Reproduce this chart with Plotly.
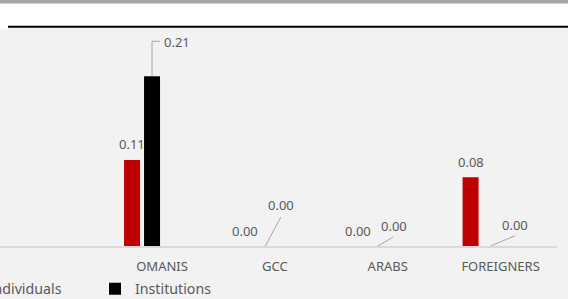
import plotly.graph_objects as go

categories = ["OMANIS", "GCC", "ARABS", "FOREIGNERS"]
individuals = [0.106, 0.0, 0.0, 0.0846]
institutions = [0.209, 0.0, 0.0, 0.0]
series_names = ["Individuals", "Institutions"]
series_colors = ["#C00000", "#000000"]

W, H = 568, 299
ML, MR, MT, MB = 0, 11, 28, 53
PW = W - ML - MR          # plot width in px
PH = H - MT - MB          # plot height in px
CAT_PX = PW / 4.936       # pixels per category
X_RANGE = [-1.436, 3.5]
PX_PER_UNIT = 812.0
Y_RANGE = [0, PH / PX_PER_UNIT]

BAR_W = 16 / CAT_PX
OFFSETS = [-38 / CAT_PX, -18 / CAT_PX]
FONT = "Noto Sans"
TXT = "#595959"
LEAD = "#a6a6a6"

fig = go.Figure()
for name, vals, col, off in zip(series_names, [individuals, institutions], series_colors, OFFSETS):
    fig.add_trace(go.Bar(name=name, x=categories, y=vals, marker_color=col,
                         marker_line_width=0, offset=off, width=BAR_W))

# label layout: (dx, dy up) for text centre; leader path points in px
label_style = {
    0: [dict(t=(0, 15.5)), dict(t=(0, 15.5)), dict(t=(0, 15.5)), dict(t=(0, 15.5))],
    1: [dict(t=(25, 34), lead="M0,0 L0,35 L8,35"),
        dict(t=(15.7, 41), lead="M0.5,0 L16,29"),
        dict(t=(16, 20.5), lead="M0,0 L15.5,9"),
        dict(t=(24, 21.5), lead="M0,0 L24.6,10.3")],
}

annotations = []
shapes = []
for si, vals in enumerate([individuals, institutions]):
    for ci, v in enumerate(vals):
        st = label_style[si][ci]
        xc = ci + OFFSETS[si] + BAR_W / 2
        annotations.append(dict(x=xc, y=v, xref="x", yref="y", text=f"{v:.2f}",
                                showarrow=False, xanchor="center", yanchor="middle",
                                xshift=st["t"][0], yshift=st["t"][1],
                                font=dict(family=FONT, size=13, color=TXT)))
        if "lead" in st:
            shapes.append(dict(type="path", xref="x", yref="y", xsizemode="pixel",
                               ysizemode="pixel", xanchor=xc, yanchor=v, path=st["lead"],
                               line=dict(color=LEAD, width=1)))

def px(x):
    return (x - ML) / PW

def py(y):
    return (MT + PH - y) / PH

deco = [
    dict(type="rect", x0=px(0), x1=px(W), y0=py(3.5), y1=py(27.7), fillcolor="white"),
    dict(type="rect", x0=px(0), x1=px(8), y0=py(27.5), y1=py(29.3), fillcolor="white"),
    dict(type="rect", x0=px(0), x1=px(W), y0=py(0), y1=py(3.5), fillcolor="#a6a6a6"),
    dict(type="rect", x0=px(8), x1=px(W), y0=py(25.7), y1=py(27.7), fillcolor="black"),
]
for d in deco:
    d.update(xref="paper", yref="paper", line=dict(width=0), layer="above")
shapes = deco + shapes

fig.update_layout(
    width=W, height=H,
    margin=dict(l=ML, r=MR, t=MT, b=MB, autoexpand=False),
    paper_bgcolor="#f2f2f2", plot_bgcolor="#f2f2f2",
    barmode="overlay",
    showlegend=True,
    legend=dict(orientation="h", x=px(-51.3), xanchor="left", y=py(289), yanchor="middle",
                font=dict(family=FONT, size=14.2, color=TXT), entrywidth=101.3,
                entrywidthmode="pixels", bgcolor="rgba(0,0,0,0)", traceorder="normal"),
    xaxis=dict(type="category", categoryorder="array", categoryarray=categories,
               range=X_RANGE, showline=True, linecolor="#d9d9d9", linewidth=2,
               showgrid=False, zeroline=False, ticks="", fixedrange=True,
               ticklabelstandoff=7,
               tickfont=dict(family=FONT, size=13, color=TXT)),
    yaxis=dict(range=Y_RANGE, visible=False, showgrid=False, zeroline=False, fixedrange=True),
    annotations=annotations, shapes=shapes,
    font=dict(family=FONT, size=13, color=TXT),
)

fig.write_html("out.html", config={"displayModeBar": False},
               post_script="document.body.style.margin='0';document.body.style.overflow='hidden';")
